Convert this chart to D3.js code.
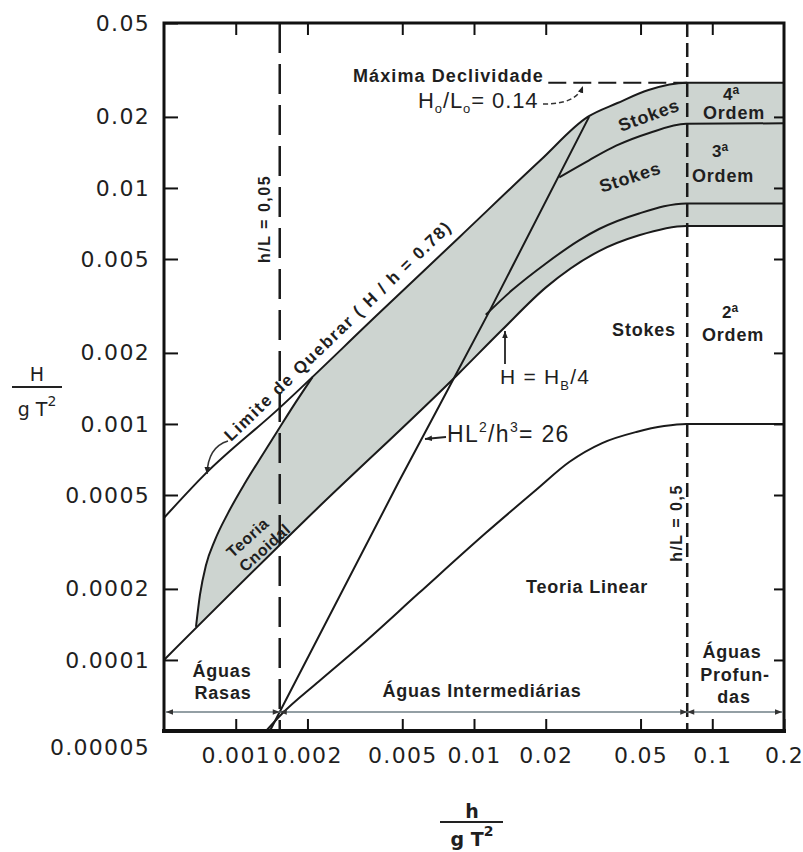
<!DOCTYPE html>
<html>
<head>
<meta charset="utf-8">
<script src="https://cdn.jsdelivr.net/npm/d3@7"></script>
<style>
  body { margin: 0; background: #fff; }
  svg text { fill: #1f1f1f; font-family: "Liberation Sans", Arial, sans-serif; }
</style>
</head>
<body>
<svg id="chart" width="803" height="852"></svg>
<script>
// DATA  (h/gT^2 , H/gT^2)
const xTicks = [0.001, 0.002, 0.005, 0.01, 0.02, 0.05, 0.1, 0.2];
const xTickLabels = ["0.001", "0.002", "0.005", "0.01", "0.02", "0.05", "0.1", "0.2"];
const yTicks = [0.05, 0.02, 0.01, 0.005, 0.002, 0.001, 0.0005, 0.0002, 0.0001, 0.00005];
const yTickLabels = ["0.05", "0.02", "0.01", "0.005", "0.002", "0.001", "0.0005", "0.0002", "0.0001", "0.00005"];

// limite de quebrar H/h = 0.78 -> Ho/Lo = 0.14
const breakingLimit = [[0.0005, 0.0004], [0.00074, 0.00061], [0.0015, 0.00115], [0.004, 0.00295],
  [0.0087, 0.0062], [0.019, 0.0131], [0.030, 0.020], [0.040, 0.0229], [0.054, 0.026], [0.078, 0.0279], [0.2, 0.0279]];
// Stokes 3a / 4a ordem
const stokes4Limit = [[0.0228, 0.0111], [0.0304, 0.0131], [0.0395, 0.0151], [0.0544, 0.0171], [0.0778, 0.0187], [0.2, 0.0188]];
// Stokes 2a / 3a ordem
const stokes3Limit = [[0.0112, 0.0029], [0.0145, 0.0037], [0.0201, 0.0048], [0.0276, 0.0060], [0.0335, 0.0067],
  [0.0493, 0.0078], [0.0778, 0.0086], [0.2, 0.0086]];
// H = HB/4
const quarterBreaking = [[0.0005, 0.0001], [0.00195, 0.00039], [0.00865, 0.00164], [0.0131, 0.0025], [0.0201, 0.0038],
  [0.0335, 0.0054], [0.0493, 0.0063], [0.0778, 0.0069], [0.2, 0.0069]];
// HL^2/h^3 = 26
const ursellLine = [[0.00139, 0.00005], [0.00484, 0.00057], [0.0116, 0.0030], [0.0304, 0.020]];
// limite da teoria linear
const linearLimit = [[0.00134, 0.00005], [0.00156, 0.000059], [0.00223, 0.000081], [0.00338, 0.000116], [0.00587, 0.000192],
  [0.0112, 0.000345], [0.0182, 0.000525], [0.0251, 0.00069], [0.0345, 0.00083], [0.048, 0.000925], [0.0628, 0.00098],
  [0.078, 0.001], [0.2, 0.001]];
// borda esquerda da teoria cnoidal
const cnoidalLeft = [[0.000681, 0.000138], [0.000708, 0.000189], [0.00075, 0.000252], [0.000818, 0.000322],
  [0.000928, 0.000419], [0.001094, 0.000562], [0.001302, 0.000746], [0.001534, 0.000971], [0.00179, 0.00124], [0.0021, 0.00158]];

const shallowLimit = 0.00153;  // h/L = 0,05
const deepLimit = 0.0785;      // h/L = 0,5
const maxSteepness = [[0.0205, 0.0279], [0.0785, 0.0279]];

// SCALES
const svg = d3.select("#chart");
const x = d3.scaleLog().domain([0.0005, 0.2]).range([164, 784]);
const y = d3.scaleLog().domain([0.00005, 0.05]).range([731, 23]);
const line = d3.line().x(d => x(d[0])).y(d => y(d[1])).curve(d3.curveMonotoneX);

const defs = svg.append("defs");
defs.append("marker").attr("id", "arr").attr("viewBox", "0 0 10 10")
  .attr("refX", 10).attr("refY", 5).attr("markerWidth", 7).attr("markerHeight", 7)
  .attr("markerUnits", "userSpaceOnUse").attr("orient", "auto-start-reverse")
  .append("path").attr("d", "M0,1L10,5L0,9Z").attr("fill", "#222");
defs.append("marker").attr("id", "arrg").attr("viewBox", "0 0 10 10")
  .attr("refX", 10).attr("refY", 5).attr("markerWidth", 9).attr("markerHeight", 7)
  .attr("markerUnits", "userSpaceOnUse").attr("orient", "auto-start-reverse")
  .append("path").attr("d", "M0,1L10,5L0,9Z").attr("fill", "#333");

// gray region (cnoidal + stokes)
const fStart = cnoidalLeft[0], fEnd = cnoidalLeft[cnoidalLeft.length - 1];
const topSeg = [fEnd].concat(breakingLimit.filter(d => d[0] > fEnd[0]));
const botSeg = quarterBreaking.filter(d => d[0] > fStart[0]).reverse().concat([fStart]);
svg.append("path")
  .attr("d", line(cnoidalLeft) + line(topSeg).replace(/^M/, "L") + line(botSeg).replace(/^M/, "L") + "Z")
  .attr("fill", "#cdd4d0").attr("stroke", "none");

// curves
const curves = [breakingLimit, stokes4Limit, stokes3Limit, quarterBreaking, ursellLine, linearLimit, cnoidalLeft];
svg.append("g").selectAll("path").data(curves).enter().append("path")
  .attr("d", line).attr("fill", "none").attr("stroke", "#1a1a1a").attr("stroke-width", 2);

// dashed limits
svg.append("line").attr("x1", x(shallowLimit)).attr("x2", x(shallowLimit)).attr("y1", y(0.05)).attr("y2", y(0.00005))
  .attr("stroke", "#1a1a1a").attr("stroke-width", 2.5).attr("stroke-dasharray", "30,11");
svg.append("line").attr("x1", x(deepLimit)).attr("x2", x(deepLimit)).attr("y1", y(0.05)).attr("y2", y(0.00005))
  .attr("stroke", "#1a1a1a").attr("stroke-width", 2.5).attr("stroke-dasharray", "14,6");
svg.append("path").attr("d", d3.line().x(d => x(d[0])).y(d => y(d[1]))(maxSteepness))
  .attr("fill", "none").attr("stroke", "#1a1a1a").attr("stroke-width", 2).attr("stroke-dasharray", "18,7");

// water depth arrows
const arrowY = 712;
[[x(0.0005) + 2, x(shallowLimit)], [x(shallowLimit), x(deepLimit)], [x(deepLimit), x(0.2) - 2]].forEach(s => {
  svg.append("line").attr("x1", s[0]).attr("x2", s[1]).attr("y1", arrowY).attr("y2", arrowY)
    .attr("stroke", "#6f7f86").attr("stroke-width", 1.4)
    .attr("marker-start", "url(#arrg)").attr("marker-end", "url(#arrg)");
});

// AXES
const tickStyle = g => {
  g.select(".domain").remove();
  g.selectAll(".tick line").attr("stroke", "#111").attr("stroke-width", 2);
  g.selectAll(".tick text").style("font-family", "'DejaVu Sans', sans-serif").style("font-size", "22px")
    .style("letter-spacing", "1.3px").attr("fill", "#222");
};
svg.append("g").attr("transform", "translate(0,731)")
  .call(d3.axisBottom(x).tickValues(xTicks).tickSize(-12).tickPadding(16).tickFormat((d, i) => xTickLabels[i]))
  .call(tickStyle);
svg.append("g").attr("transform", "translate(0,23)")
  .call(d3.axisTop(x).tickValues(xTicks.slice(0, -1)).tickSize(-12).tickFormat(""))
  .call(tickStyle);
const yAxisG = svg.append("g").attr("transform", "translate(164,0)")
  .call(d3.axisLeft(y).tickValues(yTicks).tickSize(-14).tickPadding(14).tickFormat((d, i) => yTickLabels[i]))
  .call(tickStyle);
yAxisG.selectAll(".tick").filter(d => d === 0.00005).select("text").attr("dy", "1.05em");
svg.append("g").attr("transform", "translate(784,0)")
  .call(d3.axisRight(y).tickValues(yTicks.slice(1, -1)).tickSize(-10).tickFormat(""))
  .call(tickStyle);

// frame
svg.append("rect").attr("x", 164).attr("y", 23).attr("width", 620).attr("height", 708)
  .attr("fill", "none").attr("stroke", "#111").attr("stroke-width", 3);
svg.append("line").attr("x1", 162).attr("x2", 786).attr("y1", 731).attr("y2", 731)
  .attr("stroke", "#111").attr("stroke-width", 4);

// axis titles
const title = (cx, top, mid, bot, lineX1, lineX2, bold) => {
  const g = svg.append("g").style("font-weight", bold ? "bold" : "normal");
  g.append("text").attr("x", cx).attr("y", top).attr("text-anchor", "middle")
    .style("font-family", "'DejaVu Sans', sans-serif").style("font-size", "19px").text(mid.t);
  g.append("line").attr("x1", lineX1).attr("x2", lineX2).attr("y1", mid.ly).attr("y2", mid.ly)
    .attr("stroke", "#222").attr("stroke-width", 2);
  const t = g.append("text").attr("x", cx).attr("y", bot).attr("text-anchor", "middle")
    .style("font-family", "'DejaVu Sans', sans-serif").style("font-size", "19px");
  t.append("tspan").text("g T");
  t.append("tspan").attr("dy", -10).style("font-size", "14px").text("2");
};
title(37, 381, { t: "H", ly: 387 }, 416, 12, 62, false);
title(472, 818, { t: "h", ly: 822 }, 846, 440, 503, true);

// LABELS
const label = (tx, ty, str, opts = {}) => {
  const t = svg.append("text").attr("x", tx).attr("y", ty)
    .attr("text-anchor", opts.anchor || "middle")
    .style("font-size", (opts.size || 18) + "px")
    .style("font-weight", opts.weight || "bold")
    .style("letter-spacing", (opts.ls === undefined ? 0.8 : opts.ls) + "px");
  if (opts.rotate !== undefined) t.attr("transform", `rotate(${opts.rotate},${tx},${ty})`);
  if (str !== null) t.text(str);
  return t;
};

label(353, 82, "Máxima Declividade", { anchor: "start", size: 18, ls: 1.1 });
const ho = label(418, 108, null, { anchor: "start", size: 22, weight: "normal", ls: 0.9 });
ho.append("tspan").text("H");
ho.append("tspan").attr("dy", 5).style("font-size", "13px").text("o");
ho.append("tspan").attr("dy", -5).text("/L");
ho.append("tspan").attr("dy", 5).style("font-size", "13px").text("o");
ho.append("tspan").attr("dy", -5).text("= 0.14");
svg.append("path").attr("d", "M543,104 C565,104 578,99 583,86")
  .attr("fill", "none").attr("stroke", "#333").attr("stroke-width", 1.5).attr("stroke-dasharray", "5,3")
  .attr("marker-end", "url(#arr)");

label(651, 121, "Stokes", { rotate: -20 });
label(632, 183, "Stokes", { rotate: -18 });
label(644, 336, "Stokes");

const ord = (cx, ySup, yOrd, n) => {
  const t = label(cx, ySup, null, { size: 17, ls: 0 });
  t.append("tspan").text(n);
  t.append("tspan").attr("dy", -6).style("font-size", "12px").text("a");
  label(cx + 3, yOrd, "Ordem", { size: 18 });
};
ord(731, 100, 119, "4");
ord(720, 157, 182, "3");
ord(730, 318, 341, "2");

const hb = label(500, 384, null, { anchor: "start", size: 21, weight: "normal", ls: 1.2 });
hb.append("tspan").text("H = H");
hb.append("tspan").attr("dy", 6).style("font-size", "13px").text("B");
hb.append("tspan").attr("dy", -6).text("/4");
svg.append("path").attr("d", "M505,364 L505,331").attr("stroke", "#222").attr("stroke-width", 1.8)
  .attr("marker-end", "url(#arr)");

const hl = label(447, 442, null, { anchor: "start", size: 23, weight: "normal", ls: 1.3 });
hl.append("tspan").text("HL");
hl.append("tspan").attr("dy", -10).style("font-size", "14px").text("2");
hl.append("tspan").attr("dy", 10).text("/h");
hl.append("tspan").attr("dy", -10).style("font-size", "14px").text("3");
hl.append("tspan").attr("dy", 10).text("= 26");
svg.append("path").attr("d", "M446,437 L425,439").attr("stroke", "#222").attr("stroke-width", 1.8)
  .attr("marker-end", "url(#arr)");

label(342, 335, "Limite de Quebrar ( H / h = 0.78)", { size: 17, rotate: -44, ls: 1.6 });
svg.append("path").attr("d", "M228,441 Q208,447 207,474")
  .attr("fill", "none").attr("stroke", "#333").attr("stroke-width", 1.5).attr("marker-end", "url(#arr)");

const cn = svg.append("g").attr("transform", "translate(248,538) rotate(-42)");
cn.append("text").attr("x", 0).attr("y", 5).attr("text-anchor", "middle")
  .style("font-size", "16px").style("font-weight", "bold").style("letter-spacing", "0.6px").text("Teoria");
cn.append("text").attr("x", 6).attr("y", 24).attr("text-anchor", "middle")
  .style("font-size", "16px").style("font-weight", "bold").style("letter-spacing", "0.6px").text("Cnoidal");

label(587, 593, "Teoria Linear");

label(270, 219, "h/L = 0,05", { size: 16, rotate: -90, ls: 1.5 });
label(682, 523, "h/L = 0,5", { size: 16, rotate: -90, ls: 1.5 });

label(222, 677, "Águas");
label(223, 699, "Rasas");
label(482, 697, "Águas Intermediárias");
label(732, 658, "Águas");
label(735, 681, "Profun-");
label(734, 703, "das");
</script>
</body>
</html>
